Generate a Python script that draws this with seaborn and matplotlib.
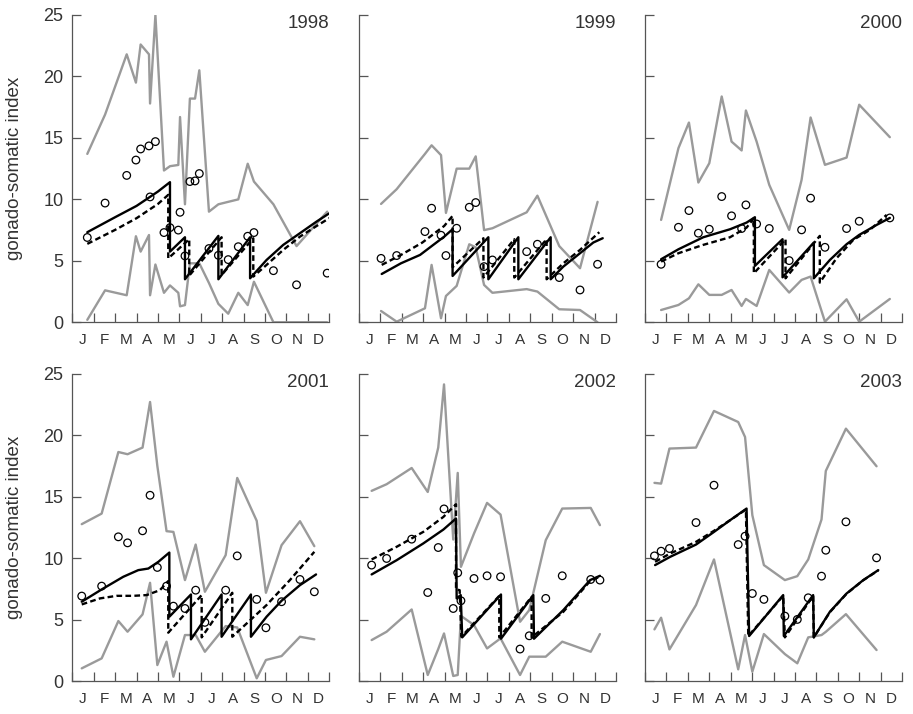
import matplotlib
matplotlib.use("Agg")
import matplotlib.pyplot as plt
import seaborn as sns
import pandas as pd

# ---------------- data ----------------
months = ["J", "F", "M", "A", "M", "J", "J", "A", "S", "O", "N", "D"]
years = [1998, 1999, 2000, 2001, 2002, 2003]

# 1998
t_1998 = [0.70, 1.53, 2.54, 2.97, 3.19, 3.58, 3.63, 3.88, 4.28, 4.56, 4.95, 5.03, 5.26, 5.49, 5.73,
          5.93, 6.38, 6.82, 7.28, 7.75, 8.19, 8.48, 9.39, 10.47, 11.9]
upper_1998 = [13.7, 16.9, 21.8, 19.5, 22.6, 21.8, 17.8, 25.0, 12.35, 12.7, 12.8, 16.7, 9.6, 18.2, 18.2,
              20.5, 9.0, 9.6, 9.8, 10.0, 12.9, 11.45, 9.6, 6.2, 9.0]
mean_1998 = [6.9, 9.7, 11.95, 13.2, 14.1, 14.35, 10.2, 14.7, 7.3, 7.7, 7.5, 8.95, 5.4, 11.45, 11.5,
             12.1, 6.0, 5.45, 5.1, 6.15, 7.0, 7.3, 4.2, 3.05, 4.0]
lower_1998 = [0.2, 2.6, 2.2, 7.0, 5.75, 7.1, 2.2, 4.7, 2.4, 3.0, 2.4, 1.3, 1.4, 4.8, 4.8,
              4.8, 3.2, 1.5, 0.7, 2.4, 1.4, 3.3, 0.0, 0.0, 0.0]
solid_t_1998 = [0.70, 2.0, 3.0, 4.0, 4.56, 4.56, 5.26, 5.26, 6.82, 6.82, 8.30, 8.30, 9.07, 9.85, 10.63, 11.41, 12.0]
solid_1998 = [7.33, 8.55, 9.47, 10.64, 11.4, 5.75, 6.92, 3.5, 7.03, 3.5, 6.92, 3.58, 5.07, 6.3, 7.25, 8.2, 8.87]
dash_t_1998 = [0.70, 2.0, 3.0, 4.0, 4.48, 4.48, 5.46, 5.46, 6.97, 6.97, 8.45, 8.45, 9.07, 9.85, 10.63, 11.41, 12.0]
dash_1998 = [6.38, 7.52, 8.47, 9.63, 10.37, 5.2, 6.76, 3.8, 6.92, 3.85, 6.84, 3.72, 4.67, 5.89, 6.97, 7.84, 8.47]

# 1999
t_1999 = [1.03, 1.76, 3.08, 3.39, 3.83, 4.06, 4.56, 5.15, 5.45, 5.84, 6.23, 7.83, 8.33, 9.35, 10.32, 11.14]
upper_1999 = [9.63, 10.83, 13.7, 14.4, 13.6, 8.9, 12.5, 12.5, 13.5, 7.5, 7.65, 8.95, 10.3, 6.2, 4.4, 9.8]
mean_1999 = [5.2, 5.43, 7.38, 9.28, 7.08, 5.43, 7.65, 9.36, 9.74, 4.53, 5.07, 5.75, 6.35, 3.64, 2.63, 4.72]
lower_1999 = [0.92, 0.05, 1.14, 4.67, 0.33, 2.14, 2.96, 6.35, 6.1, 3.04, 2.4, 2.7, 2.5, 1.06, 1.0, 0.0]
solid_t_1999 = [1.06, 1.96, 2.85, 3.47, 3.98, 4.37, 4.37, 6.04, 6.04, 7.44, 7.44, 8.95, 8.95, 9.54, 10.32, 10.94, 11.38]
solid_1999 = [3.93, 4.8, 5.48, 6.3, 6.97, 7.57, 3.77, 6.92, 3.5, 6.92, 3.5, 6.92, 3.5, 4.53, 5.62, 6.49, 6.84]
dash_t_1999 = [1.06, 1.96, 2.96, 3.98, 4.37, 4.37, 5.81, 5.81, 7.25, 7.25, 8.76, 8.76, 9.54, 10.32, 11.22]
dash_1999 = [4.67, 5.48, 6.49, 7.84, 8.66, 4.48, 6.84, 3.64, 6.76, 3.64, 6.76, 3.5, 4.8, 5.89, 7.33]

# 2000
t_2000 = [0.75, 1.56, 2.05, 2.49, 3.0, 3.58, 4.04, 4.51, 4.71, 5.21, 5.8, 6.73, 7.31, 7.73, 8.4, 9.41, 10.0, 11.43]
upper_2000 = [8.33, 14.17, 16.25, 11.37, 12.94, 18.37, 14.7, 13.98, 17.23, 14.7, 11.18, 7.52, 11.59, 16.66,
              12.81, 13.4, 17.7, 15.06]
mean_2000 = [4.72, 7.73, 9.09, 7.25, 7.57, 10.23, 8.66, 7.63, 9.55, 8.0, 7.63, 5.02, 7.52, 10.1, 6.1, 7.63,
             8.22, 8.49]
lower_2000 = [1.0, 1.41, 1.95, 3.09, 2.23, 2.23, 2.63, 1.33, 1.9, 1.33, 4.26, 2.42, 3.45, 3.72, 0.05, 1.87,
              0.05, 1.9]
solid_t_2000 = [0.75, 1.56, 2.72, 3.97, 4.74, 5.13, 5.13, 6.42, 6.42, 7.88, 7.88, 8.63, 9.41, 10.0, 10.81, 11.43]
solid_2000 = [5.13, 5.94, 6.92, 7.57, 8.11, 8.55, 4.59, 6.76, 3.66, 6.49, 3.58, 5.07, 6.35, 7.11, 7.92, 8.49]
dash_t_2000 = [0.75, 1.56, 2.72, 3.97, 4.74, 5.08, 5.08, 6.56, 6.56, 8.16, 8.16, 8.94, 9.72, 10.5, 11.28]
dash_2000 = [4.94, 5.62, 6.3, 6.92, 7.7, 8.47, 3.99, 6.76, 3.58, 7.03, 3.23, 5.21, 6.7, 7.52, 8.74]

# 2001
t_2001 = [0.44, 1.37, 2.15, 2.58, 3.28, 3.63, 3.97, 4.40, 4.72, 5.26, 5.76, 6.19, 7.16, 7.70, 8.61, 9.04,
          9.77, 10.63, 11.30]
upper_2001 = [12.76, 13.62, 18.63, 18.45, 18.99, 22.7, 17.5, 12.19, 12.13, 8.21, 11.1, 7.26, 10.24, 16.52,
              13.03, 7.18, 11.05, 13.0, 10.97]
mean_2001 = [6.91, 7.72, 11.73, 11.24, 12.22, 15.11, 9.24, 7.72, 6.09, 5.9, 7.39, 4.77, 7.39, 10.18, 6.64,
             4.33, 6.45, 8.26, 7.26]
lower_2001 = [1.03, 1.84, 4.88, 4.01, 5.42, 7.99, 1.3, 3.2, 0.35, 3.74, 3.74, 2.38, 4.47, 4.36, 0.22, 1.71,
              2.03, 3.6, 3.39]
solid_t_2001 = [0.44, 1.37, 2.38, 3.08, 3.55, 4.02, 4.53, 4.53, 5.54, 5.54, 6.97, 6.97, 8.34, 8.34, 9.07,
                9.77, 10.63, 11.38]
solid_2001 = [6.45, 7.45, 8.48, 9.02, 9.15, 9.7, 10.45, 5.23, 7.04, 3.39, 7.04, 3.6, 7.04, 3.6, 5.23, 6.53,
              7.8, 8.67]
dash_t_2001 = [0.44, 1.29, 2.07, 2.85, 3.47, 4.09, 4.48, 4.48, 6.04, 6.04, 7.47, 7.47, 9.07, 10.16, 11.3]
dash_2001 = [6.23, 6.72, 6.93, 6.93, 6.99, 7.39, 8.13, 3.93, 6.99, 3.55, 7.18, 3.6, 6.18, 8.21, 10.51]

# 2002
t_2002 = [0.59, 1.29, 2.46, 3.21, 3.70, 3.97, 4.40, 4.61, 4.76, 5.37, 5.98, 6.61, 7.52, 7.95, 8.72, 9.49,
          10.82, 11.25]
upper_2002 = [15.47, 16.01, 17.33, 15.38, 18.99, 24.13, 11.51, 16.93, 9.29, 12.0, 14.49, 13.54, 4.82, 5.77,
              11.46, 14.03, 14.08, 12.68]
mean_2002 = [9.43, 9.97, 11.54, 7.2, 10.86, 14.0, 5.9, 8.8, 6.53, 8.34, 8.56, 8.48, 2.6, 3.68, 6.72, 8.56,
             8.26, 8.21]
lower_2002 = [3.33, 4.01, 5.82, 0.49, 2.6, 3.87, 0.41, 0.49, 5.3, 4.55, 2.65, 3.47, 0.49, 1.98, 1.98, 3.2,
              2.38, 3.82]
solid_t_2002 = [0.59, 1.76, 3.0, 3.94, 4.53, 4.56, 4.75, 4.82, 6.63, 6.63, 8.14, 8.17, 9.54, 10.79, 11.25]
solid_2002 = [8.67, 9.83, 11.19, 12.32, 13.22, 6.72, 6.99, 3.55, 7.04, 3.44, 6.99, 3.44, 5.77, 8.21, 8.56]
dash_t_2002 = [0.59, 1.76, 3.0, 3.94, 4.53, 4.53, 4.70, 4.78, 6.55, 6.55, 8.06, 8.06, 9.54, 10.79, 11.22]
dash_2002 = [9.89, 10.92, 12.13, 13.35, 14.38, 7.45, 7.39, 3.6, 6.93, 3.55, 6.85, 3.55, 5.63, 8.13, 8.48]

# 2003
t_2003 = [0.44, 0.75, 1.14, 2.38, 3.22, 4.35, 4.67, 5.01, 5.55, 6.53, 7.11, 7.62, 8.24, 8.44, 9.38, 10.81]
upper_2003 = [16.12, 16.06, 18.91, 18.99, 21.97, 21.07, 19.85, 13.49, 9.43, 8.21, 8.53, 9.89, 13.14, 17.09,
              20.53, 17.47]
mean_2003 = [10.18, 10.56, 10.78, 12.89, 15.93, 11.1, 11.78, 7.12, 6.64, 5.28, 5.01, 6.77, 8.53, 10.64,
             12.95, 10.02]
lower_2003 = [4.2, 5.15, 2.57, 6.18, 9.89, 0.95, 3.74, 0.76, 3.82, 2.19, 1.44, 3.55, 3.74, 4.0, 5.44, 2.52]
solid_t_2003 = [0.47, 1.17, 2.38, 3.22, 3.97, 4.74, 4.86, 6.45, 6.48, 7.85, 7.88, 8.63, 9.41, 10.19, 10.89]
solid_2003 = [9.43, 10.1, 11.1, 12.13, 13.08, 14.03, 3.66, 6.99, 3.66, 6.99, 3.55, 5.63, 7.12, 8.21, 9.02]
dash_t_2003 = [0.47, 1.17, 2.38, 3.22, 3.97, 4.71, 4.82, 6.45, 6.53, 7.85, 7.88, 8.63, 9.41, 10.19, 10.89]
dash_2003 = [9.7, 10.37, 11.32, 12.22, 13.08, 13.95, 3.66, 6.93, 3.55, 6.93, 3.55, 5.6, 7.1, 8.2, 9.0]

series = {
    1998: (t_1998, upper_1998, mean_1998, lower_1998, solid_t_1998, solid_1998, dash_t_1998, dash_1998),
    1999: (t_1999, upper_1999, mean_1999, lower_1999, solid_t_1999, solid_1999, dash_t_1999, dash_1999),
    2000: (t_2000, upper_2000, mean_2000, lower_2000, solid_t_2000, solid_2000, dash_t_2000, dash_2000),
    2001: (t_2001, upper_2001, mean_2001, lower_2001, solid_t_2001, solid_2001, dash_t_2001, dash_2001),
    2002: (t_2002, upper_2002, mean_2002, lower_2002, solid_t_2002, solid_2002, dash_t_2002, dash_2002),
    2003: (t_2003, upper_2003, mean_2003, lower_2003, solid_t_2003, solid_2003, dash_t_2003, dash_2003),
}

# ---------------- style ----------------
sns.set_theme(style="white")
plt.rcParams["font.family"] = ["Liberation Sans", "DejaVu Sans"]
TXT = "#333333"
SPINE = "#555555"
GRAY = "#9a9a9a"

fig = plt.figure(figsize=(9.13, 7.14), dpi=100)
lefts = [0.0792, 0.3932, 0.7065]
bottoms = [0.5486, 0.0462]
W, H = 0.2815, 0.4304

for i, yr in enumerate(years):
    r, c = divmod(i, 3)
    ax = fig.add_axes([lefts[c], bottoms[r], W, H])
    t, up, mn, lo, st, sv, dt, dv = series[yr]

    sns.lineplot(x=t, y=up, ax=ax, sort=False, estimator=None, color=GRAY, linewidth=1.7, zorder=2)
    sns.lineplot(x=t, y=lo, ax=ax, sort=False, estimator=None, color=GRAY, linewidth=1.7, zorder=2)
    sns.lineplot(x=st, y=sv, ax=ax, sort=False, estimator=None, color="black", linewidth=1.7, zorder=3)
    sns.lineplot(x=dt, y=dv, ax=ax, sort=False, estimator=None, color="black", linewidth=1.7,
                 linestyle=(0, (2.4, 1.4)), zorder=3)
    sns.scatterplot(x=t, y=mn, ax=ax, marker="o", s=30, facecolor="none", edgecolor="black",
                    linewidth=0.9, zorder=4)

    ax.set_xlim(0, 12)
    ax.set_ylim(0, 25)
    ax.set_xticks(range(13))
    ax.set_xticklabels([])
    ax.set_xticks([m + 0.5 for m in range(12)], minor=True)
    ax.set_xticklabels(months, minor=True)
    ax.set_yticks([0, 5, 10, 15, 20, 25])
    ax.tick_params(axis="x", which="major", direction="in", length=6.5, width=0.9, color=SPINE,
                   bottom=True)
    ax.tick_params(axis="x", which="minor", length=0, pad=8, labelsize=11, labelcolor=TXT, bottom=True)
    ax.tick_params(axis="y", which="major", direction="in", length=6.5, width=0.9, color=SPINE,
                   pad=6.5, labelsize=13, labelcolor=TXT, left=True)
    for s in ["top", "right"]:
        ax.spines[s].set_visible(False)
    for s in ["left", "bottom"]:
        ax.spines[s].set_color(SPINE)
        ax.spines[s].set_linewidth(0.9)
    if c == 0:
        ax.set_ylabel("gonado-somatic index", fontsize=13.5, color=TXT)
        ax.yaxis.set_label_coords(-0.19, 0.5)
    else:
        ax.set_yticklabels([])
        ax.set_ylabel("")
    ax.set_xlabel("")
    ax.text(1.0, 1.0, str(yr), transform=ax.transAxes, ha="right", va="top", fontsize=13.5, color=TXT)

fig.savefig("out.png", dpi=100)
